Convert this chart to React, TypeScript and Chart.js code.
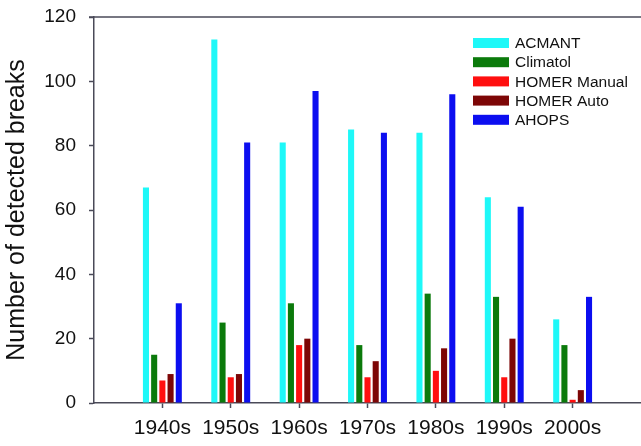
import React, { useEffect, useRef } from "react";
import { Chart, registerables } from "chart.js";

Chart.register(...registerables);

const categories = ["", "1940s", "1950s", "1960s", "1970s", "1980s", "1990s", "2000s", ""];
const seriesNames = ["ACMANT", "Climatol", "HOMER Manual", "HOMER Auto", "AHOPS"];
const acmant = [null, 67, 113, 81, 85, 84, 64, 26, null];
const climatol = [null, 15, 25, 31, 18, 34, 33, 18, null];
const homerManual = [null, 7, 8, 18, 8, 10, 8, 1, null];
const homerAuto = [null, 9, 9, 20, 13, 17, 20, 4, null];
const ahops = [null, 31, 81, 97, 84, 96, 61, 33, null];
const yMin = 0;
const yMax = 120;
const yStep = 20;

const seriesColors = ["#1ef8f8", "#0b7a0b", "#ff0f0f", "#7d0606", "#0c0ef0"];
const AXIS = "#4a4a58";
const FONT = "'Liberation Sans', Arial, sans-serif";

const boxLegend = {
  id: "boxLegend",
  afterDraw(chart: any) {
    const ctx = chart.ctx;
    const { top, left } = chart.chartArea;
    ctx.save();
    ctx.strokeStyle = AXIS;
    ctx.lineWidth = 1.5;
    ctx.beginPath();
    ctx.moveTo(left - 5, top);
    ctx.lineTo(chart.width, top);
    ctx.stroke();
    chart.data.datasets.forEach((ds: any, i: number) => {
      const y = 43 + i * 19.2;
      ctx.fillStyle = ds.backgroundColor;
      ctx.fillRect(473, y - 5, 36, 10);
      ctx.fillStyle = "#111";
      ctx.font = "15.5px " + FONT;
      ctx.textBaseline = "middle";
      ctx.textAlign = "left";
      ctx.fillText(ds.label, 515, y + 1);
    });
    ctx.restore();
  },
};

export default function App() {
  const ref = useRef<HTMLCanvasElement>(null);
  useEffect(() => {
    if (!ref.current) return;
    const values = [acmant, climatol, homerManual, homerAuto, ahops];
    const chart = new Chart(ref.current, {
      type: "bar",
      data: {
        labels: categories,
        datasets: seriesNames.map((name, i) => ({
          label: name,
          data: values[i],
          backgroundColor: seriesColors[i],
          borderWidth: 0,
          categoryPercentage: 0.6,
          barPercentage: 0.74,
        })),
      },
      plugins: [boxLegend],
      options: {
        responsive: false,
        animation: false,
        layout: { padding: { top: 17, left: 0, right: -3, bottom: 0 } },
        plugins: { legend: { display: false }, tooltip: { enabled: false } },
        scales: {
          x: {
            type: "category",
            offset: false,
            afterFit: (s: any) => {
              s.height = 43;
              s.paddingLeft = 0;
              s.paddingRight = 0;
            },
            grid: {
              offset: false,
              drawOnChartArea: false,
              drawTicks: true,
              tickLength: 5,
              tickColor: (c: any) =>
                c.index === 0 || c.index === categories.length - 1 ? "rgba(0,0,0,0)" : AXIS,
              tickWidth: 1.5,
            },
            border: { display: true, color: AXIS, width: 1.5 },
            ticks: {
              autoSkip: false,
              maxRotation: 0,
              padding: 8,
              color: "#111",
              font: { family: FONT, size: 21 },
            },
          },
          y: {
            min: yMin,
            max: yMax,
            afterFit: (s: any) => {
              s.width = 94;
              s.paddingTop = 0;
              s.paddingBottom = 0;
            },
            grid: { drawOnChartArea: false, drawTicks: true, tickLength: 5, tickColor: AXIS, tickWidth: 1.5 },
            border: { display: true, color: AXIS, width: 1.5 },
            ticks: {
              stepSize: yStep,
              padding: 13,
              color: "#111",
              font: { family: FONT, size: 19 },
            },
            title: {
              display: true,
              text: "Number of detected breaks",
              color: "#111",
              font: { family: FONT, size: 25 },
              padding: { top: 2, bottom: 0 },
            },
          },
        },
      },
    });
    return () => chart.destroy();
  }, []);
  return (
    <div style={{ position: "fixed", left: 0, top: 0, width: 641, height: 446, background: "#fff" }}>
      <canvas ref={ref} width={641} height={446} />
    </div>
  );
}
